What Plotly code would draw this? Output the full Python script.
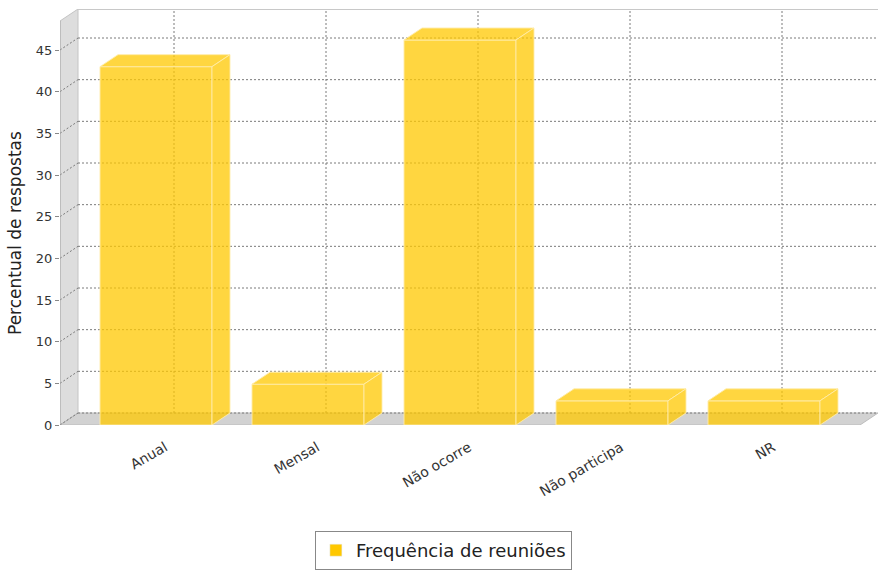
import plotly.graph_objects as go

# ---- data ----
categories = ["Anual", "Mensal", "Não ocorre", "Não participa", "NR"]
values = [43.0, 4.9, 46.2, 2.9, 2.9]
series_name = "Frequência de reuniões"
y_ticks = [0, 5, 10, 15, 20, 25, 30, 35, 40, 45]
y_title = "Percentual de respostas"

# ---- layout constants (pixels) ----
W, H = 878, 570
FL, FR, FT, FB = 60, 860, 21, 425      # front plot box
DX, DY = 18, 12                        # 3D depth offset
YMAX = 48.48                           # value at the front top edge

n = len(categories)
lower_m, cat_m = 0.05, 0.20
cw = (1 - 2 * lower_m - cat_m) / n
step = cw + cat_m / (n - 1)
XMIN = -(lower_m + cw / 2) / step
XMAX = (n - 1) + (lower_m + cw / 2) / step
bar_w = cw / step

xu = (FR - FL) / (XMAX - XMIN)   # px per x unit
yu = (FB - FT) / YMAX            # px per y unit
dxu = DX / xu
dyu = DY / yu

xs = list(range(n))
fill = "rgba(255,200,0,0.75)"
edge = "rgba(255,236,170,0.9)"
grid = dict(color="#7a7a7a", width=1, dash="2px,2px")

fig = go.Figure()

# front faces
fig.add_trace(go.Bar(x=xs, y=values, width=bar_w,
                     marker=dict(color=fill, line=dict(color=edge, width=1)),
                     showlegend=False, hoverinfo="skip"))

# top and side faces
for x, v in zip(xs, values):
    x0, x1 = x - bar_w / 2, x + bar_w / 2
    fig.add_trace(go.Scatter(x=[x0, x1, x1 + dxu, x0 + dxu, x0], y=[v, v, v + dyu, v + dyu, v],
                             fill="toself", fillcolor=fill, mode="lines", line=dict(color=edge, width=1),
                             showlegend=False, hoverinfo="skip"))
    fig.add_trace(go.Scatter(x=[x1, x1 + dxu, x1 + dxu, x1, x1], y=[0, dyu, v + dyu, v, 0],
                             fill="toself", fillcolor=fill, mode="lines", line=dict(color=edge, width=1),
                             showlegend=False, hoverinfo="skip"))

# legend entry
fig.add_trace(go.Bar(x=[None], y=[None], name=series_name, marker=dict(color="#FFC800"),
                     showlegend=True))

shapes = []
# left wall
shapes.append(dict(type="path", xref="x", yref="y", layer="below",
                   path=f"M {XMIN},0 L {XMIN},{YMAX} L {XMIN + dxu},{YMAX + dyu} L {XMIN + dxu},{dyu} Z",
                   fillcolor="#DDDDDD", line=dict(color="#C4C4C4", width=1)))
# floor
shapes.append(dict(type="path", xref="x", yref="y", layer="below",
                   path=f"M {XMIN},0 L {XMAX},0 L {XMAX + dxu},{dyu} L {XMIN + dxu},{dyu} Z",
                   fillcolor="#D2D2D2", line=dict(color="#BDBDBD", width=1)))
# back wall top border
shapes.append(dict(type="line", xref="x", yref="y", layer="below",
                   x0=XMIN + dxu, x1=XMAX + dxu, y0=YMAX + dyu, y1=YMAX + dyu,
                   line=dict(color="#C8C8C8", width=2)))
# back-wall gridlines (horizontal) + slanted wall lines
for t in y_ticks:
    shapes.append(dict(type="line", xref="x", yref="y", layer="below",
                       x0=XMIN + dxu, y0=t + dyu, x1=XMAX + dxu, y1=t + dyu, line=grid))
    shapes.append(dict(type="line", xref="x", yref="y", layer="below",
                       x0=XMIN, y0=t, x1=XMIN + dxu, y1=t + dyu, line=grid))
# back-wall gridlines (vertical, at categories)
for x in xs:
    shapes.append(dict(type="line", xref="x", yref="y", layer="below",
                       x0=x + dxu, y0=dyu, x1=x + dxu, y1=YMAX + dyu, line=grid))
# front axis line
shapes.append(dict(type="line", xref="x", yref="y", layer="below",
                   x0=XMIN, x1=XMIN, y0=0, y1=YMAX, line=dict(color="#AAAAAA", width=1)))

fig.update_layout(
    width=W, height=H, margin=dict(l=0, r=0, t=0, b=0, autoexpand=False),
    paper_bgcolor="white", plot_bgcolor="rgba(0,0,0,0)",
    font=dict(family="DejaVu Sans", color="#333333"),
    barmode="overlay",
    xaxis=dict(domain=[FL / W, (FR + DX) / W], range=[XMIN, XMAX + dxu],
               tickvals=[x + dxu / 2 for x in xs], ticktext=categories,
               tickangle=-30, tickfont=dict(size=14, color="#333333"), showgrid=False,
               zeroline=False, showline=False, ticks="outside", ticklen=8,
               tickcolor="rgba(0,0,0,0)", automargin=False),
    yaxis=dict(domain=[(H - FB) / H, (H - FT + DY) / H], range=[0, YMAX + dyu], tickvals=y_ticks,
               tickfont=dict(size=13, color="#333333"), showgrid=False, zeroline=False,
               ticks="outside", ticklen=4, tickcolor="#888888", showline=False, automargin=False),
    shapes=shapes,
    legend=dict(orientation="h", x=0.505, xanchor="center", y=0.0, yanchor="bottom",
                bordercolor="#888888", borderwidth=1, font=dict(size=18, color="#222222"),
                itemwidth=30),
    annotations=[dict(text=y_title, xref="paper", yref="paper", x=15 / W, y=(H - 233) / H,
                      xanchor="center", yanchor="middle",
                      textangle=-90, showarrow=False, font=dict(size=17, color="#222222"))],
)

fig.write_html("out.html")
